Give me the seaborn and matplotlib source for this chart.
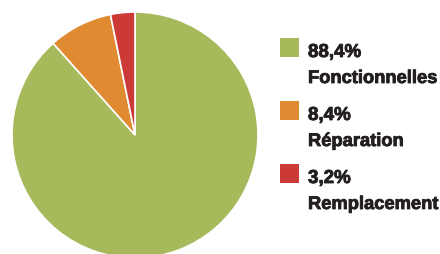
import numpy as np
import matplotlib.pyplot as plt
import seaborn as sns
from matplotlib.patches import Rectangle
import matplotlib.patheffects as pe

# Data
categories = ['Fonctionnelles', 'Réparation', 'Remplacement']
shares = [88.4, 8.4, 3.2]
share_labels = ['88,4%', '8,4%', '3,2%']
colors = ['#a6b95b', '#e08a31', '#cb3a36']

sns.set_theme(style='white')
plt.rcParams['font.family'] = ['Liberation Sans', 'DejaVu Sans']

W, H = 440, 254
fig = plt.figure(figsize=(W / 100, H / 100), dpi=100)

# pie: centre ~ (135, 135) px, radius ~123 px
ax = fig.add_axes([12 / W, (H - 258) / H, 246 / W, 246 / H])
ax.pie(shares, colors=colors, startangle=90, counterclock=False,
       wedgeprops=dict(edgecolor='white', linewidth=1.2))
ax.set_xlim(-1, 1)
ax.set_ylim(-1, 1)
ax.set_aspect('equal')
ax.axis('off')

# legend
txt_color = '#231f20'
bold = [pe.withStroke(linewidth=0.6, foreground=txt_color)]
for i, (name, lab, c) in enumerate(zip(categories, share_labels, colors)):
    top = 38 + 63 * i
    fig.patches.append(Rectangle((280 / W, 1 - (top + 19) / H), 19 / W, 19 / H,
                                 transform=fig.transFigure, facecolor=c,
                                 edgecolor='none'))
    fig.text(308 / W, 1 - (top + 19) / H, lab, fontsize=13.5, fontweight='bold',
             color=txt_color, va='baseline', ha='left', path_effects=bold)
    fig.text(308 / W, 1 - (top + 45) / H, name, fontsize=13.2, fontweight='bold',
             color=txt_color, va='baseline', ha='left', path_effects=bold)

fig.savefig('out.png', dpi=100)
